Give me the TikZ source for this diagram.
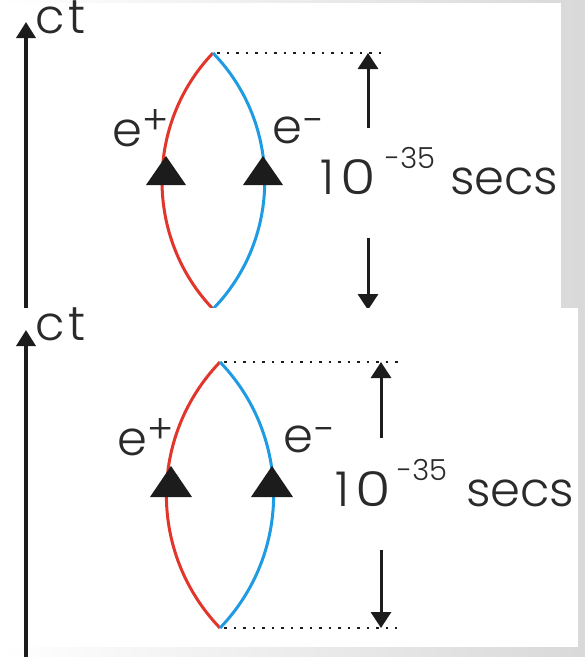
\documentclass[tikz,border=0pt]{standalone}
\usepackage{fontspec}
\usepackage{graphicx}
\setmainfont{Poppins}[UprightFont=* Light]
\usetikzlibrary{arrows.meta}
\definecolor{posred}{HTML}{E2352B}
\definecolor{negblue}{HTML}{1E9BE2}
\definecolor{ink}{HTML}{1C1C1C}
\definecolor{txt}{HTML}{2A2A2A}
\tikzset{
  lbl/.style={anchor=base west, inner sep=0pt, text=txt, font=\fontsize{48}{48}\selectfont},
  suplbl/.style={anchor=base west, inner sep=0pt, text=txt, font=\fontsize{29}{29}\selectfont},
  lensline/.style={line width=3pt},
  axisarrow/.style={ink, line width=3.5pt, -{Triangle[length=16pt,width=19pt]}},
  spanarrow/.style={ink, line width=3pt, -{Triangle[length=16pt,width=20pt]}},
  dotline/.style={ink, line width=2.2pt, dash pattern=on 2.5pt off 7pt},
  marker/.style={fill=ink, draw=none},
  panel/.style={fill=white, draw=none}
}
\newcommand{\sgn}[2]{\raisebox{#1}{\fontsize{40}{40}\selectfont #2}}
\newcommand{\tenlbl}{1\kern6pt\scalebox{1.2}[1]{0}}
\begin{document}
\begin{tikzpicture}[x=1pt,y=-1pt]
\useasboundingbox (0,0) rectangle (585,657);
\shade[left color=white, right color=black!15] (0,0) rectangle (585,657);
% ---------- top panel ----------
\fill[panel] (0,3) rectangle (561,308);
\coordinate (A1s) at (26,320);
\coordinate (A1e) at (26,22);
\draw[axisarrow] (A1s) -- (A1e);
\node[lbl] (ct1) at (35,33) {c\kern4pt t};
\coordinate (T1) at (213,53);
\coordinate (B1) at (213,309);
\draw[lensline, posred] (T1) .. controls (145,124) and (145,238) .. (B1);
\draw[lensline, negblue] (T1) .. controls (282,124) and (282,238) .. (B1);
\fill[marker] (166,156) -- (186,185) -- (146,185) -- cycle;
\fill[marker] (263,156) -- (283,185) -- (243,185) -- cycle;
\node[lbl] (ep1) at (112,146) {e\sgn{12pt}{+}};
\node[lbl] (em1) at (272,143) {e\sgn{9pt}{−}};
\coordinate (D1) at (386,53);
\draw[dotline] ([xshift=4pt]T1) -- (D1);
\coordinate (U1s) at (368,128);
\coordinate (U1e) at (368,53);
\draw[spanarrow] (U1s) -- (U1e);
\coordinate (W1s) at (368,238);
\coordinate (W1e) at (368,310);
\draw[spanarrow] (W1s) -- (W1e);
\node[lbl] (ten1) at (320,194) {\tenlbl};
\node[suplbl] (exp1) at (385,168) {-35};
\node[lbl] (secs1) at (450,194) {secs};
% ---------- bottom panel ----------
\fill[panel] (0,308) rectangle (578,647);
\coordinate (A2s) at (26,660);
\coordinate (A2e) at (26,330);
\draw[axisarrow] (A2s) -- (A2e);
\node[lbl] (ct2) at (35,340) {c\kern4pt t};
\coordinate (T2) at (220,362);
\coordinate (B2) at (220,628);
\draw[lensline, posred] (T2) .. controls (148.5,436.5) and (148.5,553.5) .. (B2);
\draw[lensline, negblue] (T2) .. controls (291.5,436.5) and (291.5,553.5) .. (B2);
\fill[marker] (171,466) -- (192,497) -- (150,497) -- cycle;
\fill[marker] (272,466) -- (293,497) -- (251,497) -- cycle;
\node[lbl] (ep2) at (117,455) {e\sgn{12pt}{+}};
\node[lbl] (em2) at (283,452) {e\sgn{9pt}{−}};
\coordinate (D2) at (400,362);
\coordinate (E2) at (397,628);
\draw[dotline] ([xshift=4pt]T2) -- (D2);
\draw[dotline] ([xshift=4pt]B2) -- (E2);
\coordinate (U2s) at (381,438);
\coordinate (U2e) at (381,362);
\draw[spanarrow] (U2s) -- (U2e);
\coordinate (W2s) at (381,550);
\coordinate (W2e) at (381,628);
\draw[spanarrow] (W2s) -- (W2e);
\node[lbl] (ten2) at (335,506) {\tenlbl};
\node[suplbl] (exp2) at (397,480) {-35};
\node[lbl] (secs2) at (466,506) {secs};
\end{tikzpicture}
\end{document}
